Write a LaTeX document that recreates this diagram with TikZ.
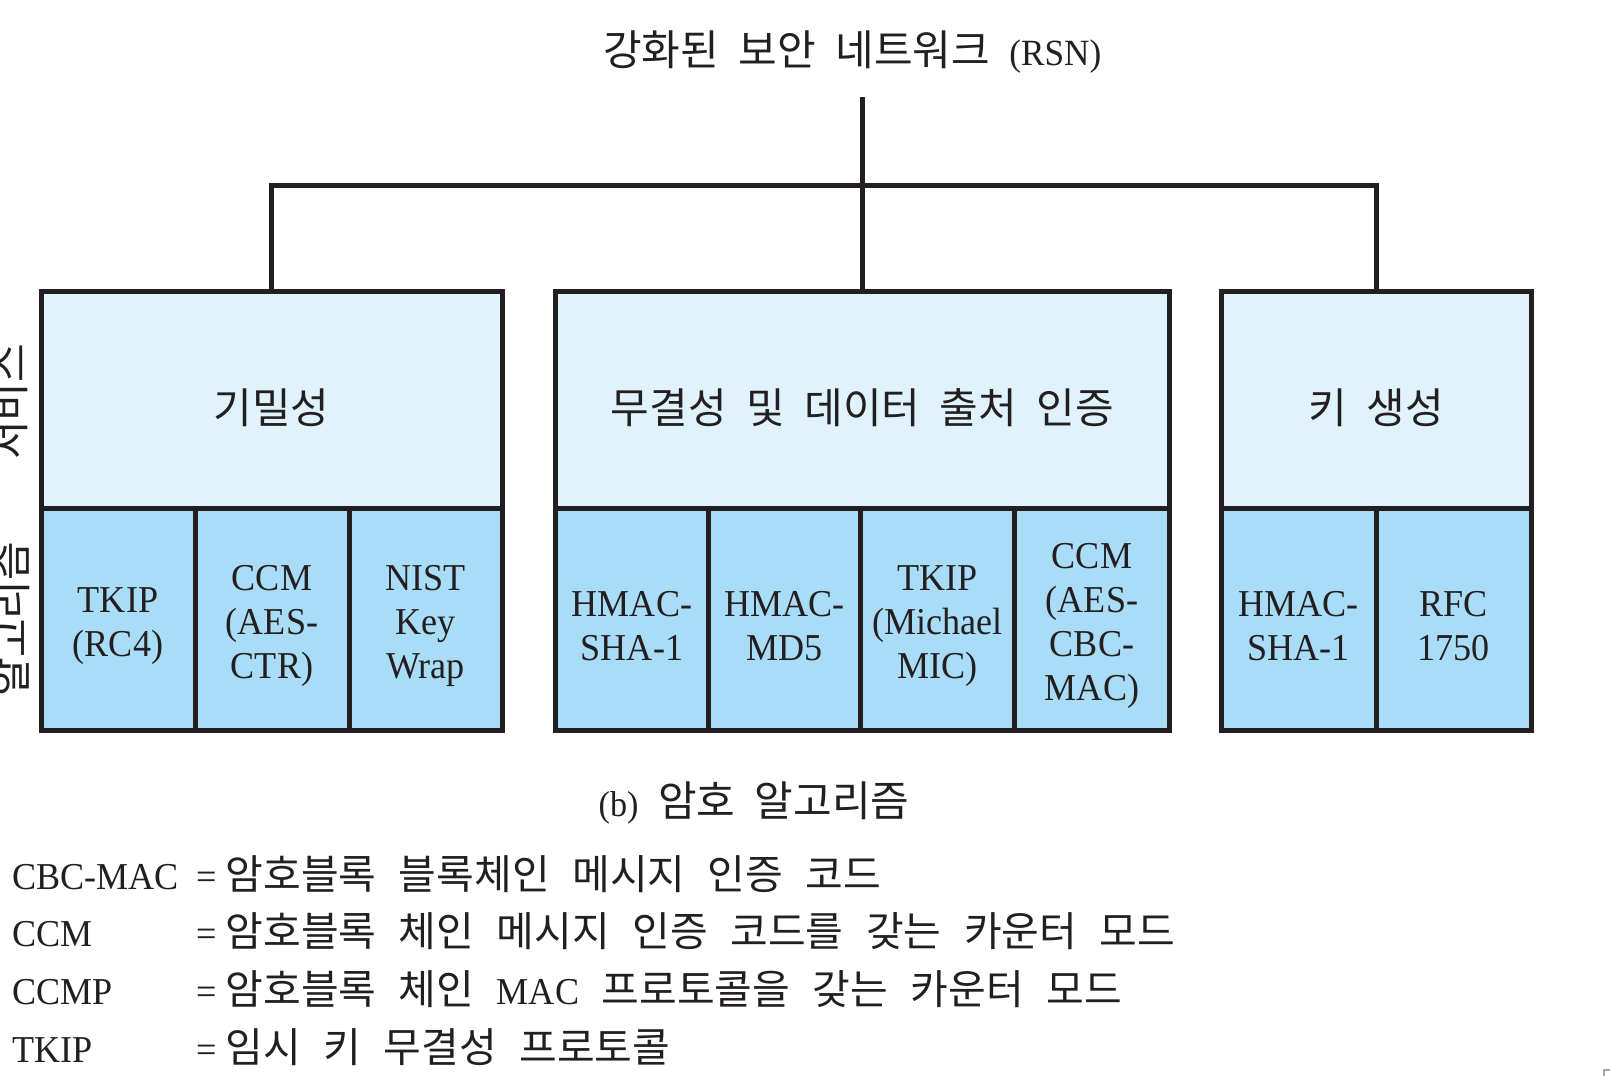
\documentclass[tikz,border=0pt]{standalone}
\usepackage{fontspec}
\setmainfont{Liberation Serif}[FakeStretch=0.95]
\newfontfamily\kr{Noto Sans CJK KR}
\definecolor{ink}{HTML}{231F20}
\definecolor{svcfill}{HTML}{E0F2FC}
\definecolor{algfill}{HTML}{A9DDF7}
\newcommand{\krhead}{\kr\fontsize{42}{48}\selectfont\spaceskip=19.5pt\relax}
\newcommand{\legfont}{\fontsize{38}{44}\selectfont\spaceskip=22.5pt\relax}
\newcommand{\lk}{\kr\fontsize{41}{48}\selectfont\spaceskip=22.5pt\relax}
\tikzset{
  every node/.style={text=ink},
  svcbox/.style={draw=ink, line width=5pt, fill=svcfill, inner sep=0pt, font=\krhead,
    execute at begin node={\rule{0pt}{52pt}}},
  algbox/.style={draw=ink, line width=5pt, fill=algfill, inner sep=0pt},
  algtext/.style={inner sep=0pt, align=center, font=\fontsize{38}{44}\selectfont},
  link/.style={draw=ink, line width=5pt},
  krtext/.style={inner sep=0pt, font=\krhead},
  sertext/.style={inner sep=0pt, font=\fontsize{38}{44}\selectfont},
  legkr/.style={inner sep=0pt, font=\legfont},
}
\begin{document}
\begin{tikzpicture}[x=1pt, y=-1pt]
\useasboundingbox[fill=white] (0,0) rectangle (1610,1076);

% title
\node[krtext, anchor=west] (title) at (603,52) {강화된 보안 네트워크 {\rmfamily\fontsize{37}{40}\selectfont (RSN)}};

% service boxes
\node[svcbox, minimum width=461pt, minimum height=217pt] (svc1) at (271.5,399.5) {기밀성};
\node[svcbox, minimum width=614pt, minimum height=217pt] (svc2) at (862.5,399.5) {무결성 및 데이터 출처 인증};
\node[svcbox, minimum width=310pt, minimum height=217pt] (svc3) at (1376,399.5) {키 생성};

% algorithm cells
\node[algbox, minimum width=154pt, minimum height=222pt] (a11) at (118,619) {};
\node[algbox, minimum width=154pt, minimum height=222pt] (a12) at (272,619) {};
\node[algbox, minimum width=153pt, minimum height=222pt] (a13) at (425.5,619) {};
\node[algbox, minimum width=153pt, minimum height=222pt] (a21) at (632,619) {};
\node[algbox, minimum width=152pt, minimum height=222pt] (a22) at (784.5,619) {};
\node[algbox, minimum width=154pt, minimum height=222pt] (a23) at (937.5,619) {};
\node[algbox, minimum width=155pt, minimum height=222pt] (a24) at (1092,619) {};
\node[algbox, minimum width=155pt, minimum height=222pt] (a31) at (1298.5,619) {};
\node[algbox, minimum width=155pt, minimum height=222pt] (a32) at (1453.5,619) {};

\node[algtext] (t11) at ([yshift=-7pt]a11.center) {TKIP\\(RC4)};
\node[algtext] (t12) at ([yshift=-7pt]a12.center) {CCM\\(AES-\\CTR)};
\node[algtext] (t13) at ([yshift=-7pt]a13.center) {NIST\\Key\\Wrap};
\node[algtext] (t21) at ([yshift=-7pt]a21.center) {HMAC-\\SHA-1};
\node[algtext] (t22) at ([yshift=-7pt]a22.center) {HMAC-\\MD5};
\node[algtext] (t23) at ([yshift=-7pt]a23.center) {TKIP\\(Michael\\MIC)};
\node[algtext] (t24) at ([yshift=-7pt]a24.center) {CCM\\(AES-\\CBC-\\MAC)};
\node[algtext] (t31) at ([yshift=-7pt]a31.center) {HMAC-\\SHA-1};
\node[algtext] (t32) at ([yshift=-7pt]a32.center) {RFC\\1750};

% side labels (clipped at the left edge)
\node[krtext, rotate=90] (svclabel) at (9,402) {서비스};
\node[krtext, rotate=90] (alglabel) at (11,619) {알고리즘};

% connectors
\coordinate (stemtop) at (862.5,97);
\coordinate (bar) at (862.5,185);
\draw[link] (stemtop) -- (svc2.north);
\draw[link, line join=miter] (svc1.north) |- (bar) -| (svc3.north);

% caption
\node[krtext] (caption) at (754,803) {{\rmfamily\fontsize{36}{40}\selectfont (b)} 암호 알고리즘};

% legend
\node[sertext, anchor=base west] (l1a) at (12,889) {CBC-MAC};
\node[legkr, anchor=base west] (l1b) at (196,889) {=\kern9pt{\lk 암호블록 블록체인 메시지 인증 코드}};
\node[sertext, anchor=base west] (l2a) at (12,946.5) {CCM};
\node[legkr, anchor=base west] (l2b) at (196,946.5) {=\kern9pt{\lk 암호블록 체인 메시지 인증 코드를 갖는 카운터 모드}};
\node[sertext, anchor=base west] (l3a) at (12,1004) {CCMP};
\node[legkr, anchor=base west] (l3b) at (196,1004) {=\kern9pt{\lk 암호블록 체인 }MAC{\lk{} 프로토콜을 갖는 카운터 모드}};
\node[sertext, anchor=base west] (l4a) at (12,1062) {TKIP};
\node[legkr, anchor=base west] (l4b) at (196,1062) {=\kern9pt{\lk 임시 키 무결성 프로토콜}};

% corner mark
\draw[gray!70, line width=2pt] (1604,1076) -- (1604,1070) -- (1610,1070);
\end{tikzpicture}
\end{document}
